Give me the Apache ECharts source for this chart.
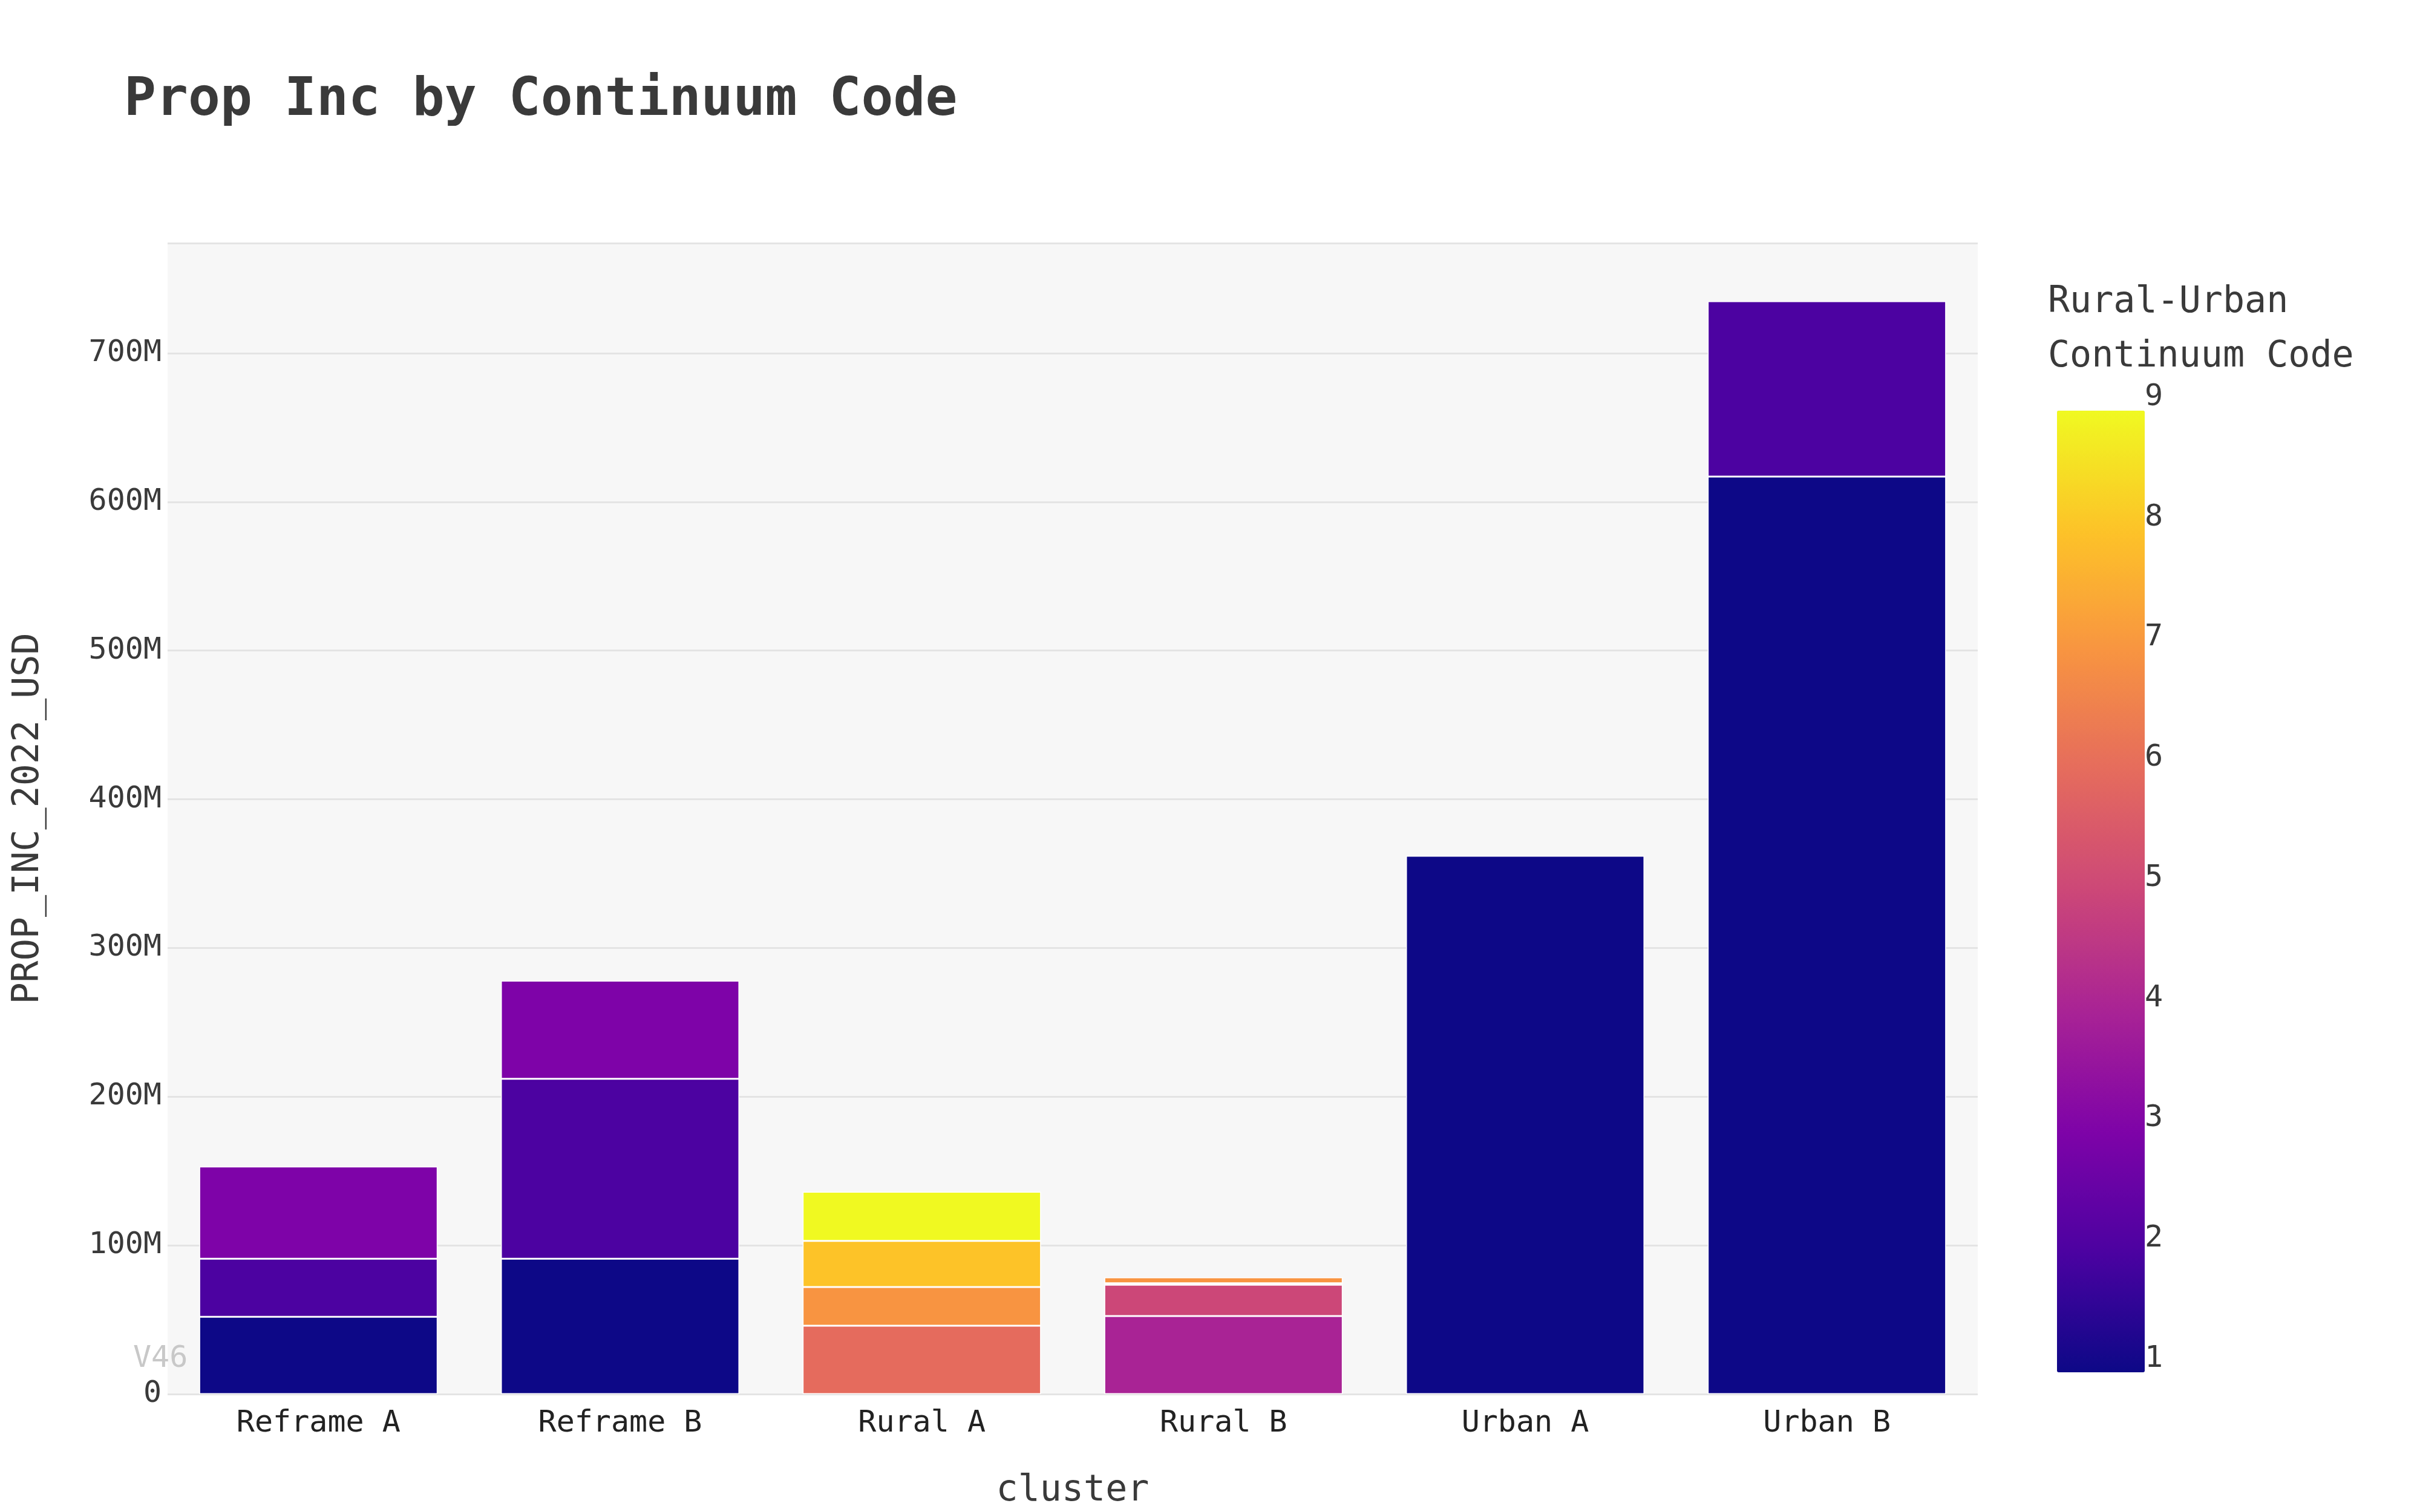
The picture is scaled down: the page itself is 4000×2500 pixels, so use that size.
<!DOCTYPE html>
<html><head><meta charset="utf-8">
<script src="https://cdn.jsdelivr.net/npm/echarts@6/dist/echarts.min.js"></script>
<style>html,body{margin:0;padding:0;background:#fff}#c{width:4000px;height:2500px}</style>
</head><body><div id="c"></div>
<script>
var categories = ['Reframe A', 'Reframe B', 'Rural A', 'Rural B', 'Urban A', 'Urban B'];
var codes = [1, 2, 3, 4, 5, 6, 7, 8, 9];
// values in millions USD, per code, per cluster
var code1 = [52, 91, null, null, 362, 617];
var code2 = [39, 121, null, null, null, 118];
var code3 = [62, 66, null, null, null, null];
var code4 = [null, null, null, 52.5, null, null];
var code5 = [null, null, null, 21, null, null];
var code6 = [null, null, 46, 1, null, null];
var code7 = [null, null, 26, 4, null, null];
var code8 = [null, null, 31, null, null, null];
var code9 = [null, null, 33, null, null, null];
var codeData = [code1, code2, code3, code4, code5, code6, code7, code8, code9];
var plasma = ['#0d0887', '#4c02a1', '#7e03a8', '#a92395', '#cc4778', '#e56b5d', '#f89441', '#fdc328', '#f0f921'];
var font = '"DejaVu Sans Mono", monospace';

var series = codes.map(function (c, i) {
    return {
        name: 'Code ' + c,
        type: 'bar',
        stack: 'total',
        barCategoryGap: '21%',
        itemStyle: {color: plasma[i], borderColor: '#ffffff', borderWidth: 1.5},
        data: codeData[i].map(function (v) { return v == null ? null : v * 1e6; })
    };
});
// dummy series so the colour bar does not recolour the bars
series.push({type: 'scatter', data: [], silent: true});

var chart = echarts.init(document.getElementById('c'));
chart.setOption({
    animation: false,
    textStyle: {fontFamily: font},
    title: {
        text: 'Prop Inc by Continuum Code',
        left: 200, top: 118,
        textStyle: {fontFamily: font, fontSize: 88, fontWeight: 'bold', color: '#3a3a3a'}
    },
    grid: {left: 277, right: 731, top: 402, bottom: 195, show: true, backgroundColor: '#f7f7f7', borderWidth: 0},
    xAxis: {
        type: 'category', data: categories,
        name: 'cluster', nameLocation: 'middle', nameGap: 130,
        nameTextStyle: {fontFamily: font, fontSize: 60, color: '#3a3a3a'},
        axisLine: {show: false}, axisTick: {show: false},
        axisLabel: {fontFamily: font, fontSize: 50, color: '#222', margin: 24}
    },
    yAxis: {
        type: 'value', min: 0, max: 774e6, interval: 100e6,
        name: 'PROP_INC_2022_USD', nameLocation: 'middle', nameGap: 200,
        nameTextStyle: {fontFamily: font, fontSize: 60, color: '#3a3a3a'},
        axisLine: {show: false}, axisTick: {show: false},
        splitLine: {lineStyle: {color: '#e4e4e4', width: 3}},
        axisLabel: {
            fontFamily: font, fontSize: 50, color: '#3a3a3a', margin: 10,
            formatter: function (v) {
                if (v % 1e8 !== 0) return '';
                return v === 0 ? '0' : (v / 1e6) + 'M';
            }
        }
    },
    visualMap: {
        type: 'continuous', min: 1, max: 9, seriesIndex: 9,
        calculable: false, realtime: false,
        left: 3385, top: 664, itemWidth: 145, itemHeight: 1590,
        text: null, showLabel: false,
        inRange: {color: plasma}
    },
    graphic: [
        {type: 'text', left: 3385, top: 455, style: {text: 'Rural-Urban\nContinuum Code', font: '60px ' + font, fill: '#3a3a3a', lineHeight: 90}},
        {type: 'text', left: 220, top: 2222, style: {text: 'V46', font: '50px ' + font, fill: '#c8c8c8'}}
    ].concat(codes.map(function (c) {
        return {type: 'text', left: 3545, top: 2254 - (c - 1) / 8 * 1590 - 32,
            style: {text: String(c), font: '50px ' + font, fill: '#3a3a3a'}};
    })),
    series: series
});
</script></body></html>
